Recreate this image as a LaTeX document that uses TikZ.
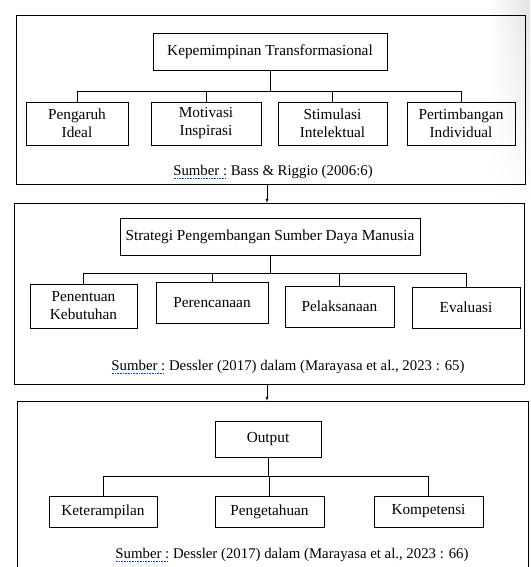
\documentclass[tikz,border=0pt]{standalone}
\usepackage{fontspec}
\setmainfont{Liberation Serif}
\usetikzlibrary{fadings}
\tikzset{>=latex}
\tikzset{
    cell/.style 2 args={draw, minimum width=#1, minimum height=#2, align=center, inner sep=0pt},
    panel/.style 2 args={draw, minimum width=#1, minimum height=#2, inner sep=0pt},
    source/.style={font=\fontsize{14.8}{18}\selectfont}
}
% blue dotted spell-check mark under a word
\newcommand\spell[1]{\setbox0\hbox{#1}\rlap{\color{blue!75!cyan}\raisebox{-3pt}{\leaders\hbox to 1.6pt{\hss\rule{0.8pt}{0.6pt}\hss}\hskip\wd0}}\box0\relax}
\newcommand\fork[2]{
    \foreach \c in {#2}
        \draw (#1.south) -- ++(0,\barh) -| (\c.north);
}

\begin{document}
\begin{tikzpicture}[x=1pt,y=-1pt,font=\fontsize{15.3}{18}\selectfont]
            \useasboundingbox (0,0) rectangle (530,567);
            \clip (0,0) rectangle (530,567);
            \shade[left color=white, right color=black!11, path fading=south] (488,0) rectangle (530,210);
            % panel 1
            \node[panel={509}{169}] (p1) at (270.5,99.5) {};
            \node[cell={234}{37}] (kt) at (270,51.5) {Kepemimpinan Transformasional};
            \node[cell={102}{43}] (pi) at (77,123.5)    {Pengaruh\\Ideal};
            \node[cell={110}{43}] (mi) at (206,123.5)   {Motivasi\\Inspirasi};
            \node[cell={109}{43}] (si) at (332.5,123.5) {Stimulasi\\Intelektual};
            \node[cell={108}{43}] (pn) at (461,123.5)   {Pertimbangan\\Individual};
            \node[source] (s1) at (273,172) {\spell{Sumber :} Bass \& Riggio (2006:6)};
            \def\barh{21}
            \fork{kt}{pi,mi,si,pn}
            % panel 2
            \node[panel={510}{181}] (p2) at (269,293.5) {};
            \node[cell={300}{37}] (sd) at (270,236.5) {Strategi Pengembangan Sumber Daya Manusia};
            \node[cell={107}{44}] (pk) at (83.5,306)  {Penentuan\\Kebutuhan};
            \node[cell={112}{41}] (pr) at (212,302.5) {Perencanaan};
            \node[cell={109}{41}] (pl) at (339.5,306.5) {Pelaksanaan};
            \node[cell={108}{41}] (ev) at (466,307.5) {Evaluasi};
            \node[source] (s2) at (288,367) {\spell{Sumber :} Dessler (2017) dalam (Marayasa et al., 2023 : 65)};
            \def\barh{18}
            \fork{sd}{pk,pr,pl,ev}
            % panel 3
            \node[panel={511}{219}] (p3) at (272.5,510.5) {};
            \node[cell={106}{36}] (op) at (268,439) {Output};
            \node[cell={108}{31}] (kr) at (103,511.5)   {Keterampilan};
            \node[cell={109}{31}] (pg) at (269.5,511.5) {Pengetahuan};
            \node[cell={109}{31}] (kp) at (428.5,511.5) {Kompetensi};
            \node[source] (s3) at (292,555) {\spell{Sumber :} Dessler (2017) dalam (Marayasa et al., 2023 : 66)};
            \def\barh{19}
            \fork{op}{kr,pg,kp}
            % arrows between panels
            \draw[->] ([xshift=-3.5]p1.south) -- ([xshift=-3.5]p1.south |- p2.north);
            \draw[->] ([xshift=-2]p2.south) -- ([xshift=-2]p2.south |- p3.north);
        \end{tikzpicture}
\end{document}
